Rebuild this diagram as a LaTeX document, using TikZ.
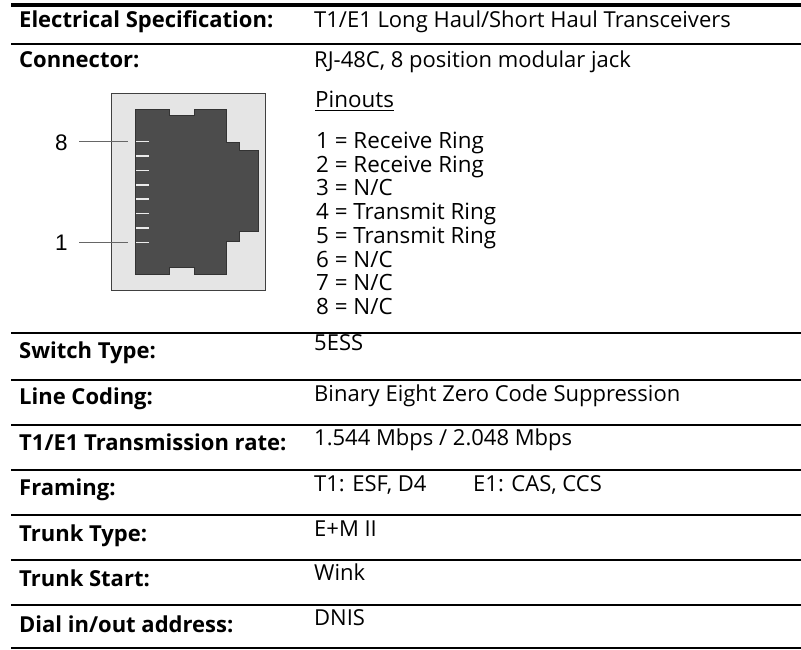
\documentclass[tikz,border=0pt]{standalone}
\usepackage{fontspec}
\setmainfont{Open Sans}
\newfontfamily\arialfont{Liberation Sans}
\begin{document}
\begin{tikzpicture}[x=1pt,y=-1pt,
  rule/.style={line width=2pt, draw=black},
  toprule/.style={line width=4pt, draw=black},
  lab/.style={anchor=base west, inner sep=0pt, font=\fontsize{22}{24}\selectfont\bfseries},
  val/.style={anchor=base west, inner sep=0pt, font=\fontsize{22}{24}\selectfont},
  listval/.style={anchor=base west, inner sep=0pt, font=\fontsize{22.4}{24}\selectfont},
  pinlab/.style={anchor=base west, inner sep=0pt, font=\arialfont\fontsize{22.5}{24}\selectfont},
  leader/.style={line width=1pt, draw=black!60},
  pinline/.style={line width=1.4pt, draw=black!8},
  jackbox/.style={draw=black!75, fill=black!10, line width=1pt},
  jack/.style={draw=black!80, fill=black!70, line width=1pt}]
\useasboundingbox (0,0) rectangle (801,649);
% rules
\draw[toprule] (11,5) -- (801,5);
\foreach \y in {44,333,380,424.5,469.5,514.5,559.5,605,647.5}
  \draw[rule] (11,\y) -- (801,\y);
% row texts
\node[lab] (l1) at (19,27) {Electrical Specification:};
\node[val] (v1) at (314,27) {T1/E1 Long Haul/Short Haul Transceivers};
\node[lab] (l2) at (19,67) {Connector:};
\node[val] (v2) at (314,67) {RJ-48C, 8 position modular jack};
\node[lab] (l3) at (19,358) {Switch Type:};
\node[val] (v3) at (314,350) {5ESS};
\node[lab] (l4) at (19,404) {Line Coding:};
\node[val] (v4) at (314,401) {Binary Eight Zero Code Suppression};
\node[lab] (l5) at (19,450) {T1/E1 Transmission rate:};
\node[val] (v5) at (314,445) {1.544 Mbps / 2.048 Mbps};
\node[lab] (l6) at (19,495) {Framing:};
\node[val] (v6) at (314,491) {\makebox[159pt][l]{T1: ESF, D4}E1: CAS, CCS};
\node[lab] (l7) at (19,541) {Trunk Type:};
\node[val] (v7) at (314,536) {E+M II};
\node[lab] (l8) at (19,586) {Trunk Start:};
\node[val] (v8) at (314,580) {Wink};
\node[lab] (l9) at (19,632) {Dial in/out address:};
\node[val] (v9) at (314,625) {DNIS};
% pinouts
\node[listval] (po) at (315,107.5) {Pinouts};
\draw[line width=1.3pt] ([yshift=-3pt]po.base west) -- ([yshift=-3pt]po.base east);
\foreach \t [count=\i from 0] in {1 = Receive Ring,2 = Receive Ring,3 = N/C,4 = Transmit Ring,5 = Transmit Ring,6 = N/C,7 = N/C,8 = N/C}
  \node[listval] (pl\i) at (316,{148.3+23.75*\i}) {\t};
% connector drawing
\draw[jackbox] (111,93) rectangle (265,290.7);
\draw[jack] (135.3,109) -- (169.3,109) -- (169.3,115.7) -- (194.3,115.7) -- (194.3,109)
  -- (226.7,109) -- (226.7,142.7) -- (239.3,142.7) -- (239.3,150.7) -- (258.3,150.7)
  -- (258.3,231) -- (239.3,231) -- (239.3,241.7) -- (226.7,241.7) -- (226.7,274.3)
  -- (194.3,274.3) -- (194.3,267.7) -- (169.3,267.7) -- (169.3,274.3) -- (135.3,274.3) -- cycle;
\foreach \i in {1,...,8} {
  \coordinate (pa\i) at (136,{242.3-14.37*(\i-1)});
  \coordinate (pb\i) at (149,{242.3-14.37*(\i-1)});
  \draw[pinline] (pa\i) -- (pb\i);
}
\node[pinlab] (n8) at (55,150) {8};
\node[pinlab] (n1) at (55,250.5) {1};
\coordinate (s8) at (79,141.7);
\coordinate (e8) at (127.5,141.7);
\coordinate (s1) at (79,242.3);
\coordinate (e1) at (127.5,242.3);
\draw[leader] (s8) -- (e8);
\draw[leader] (s1) -- (e1);
\end{tikzpicture}
\end{document}
